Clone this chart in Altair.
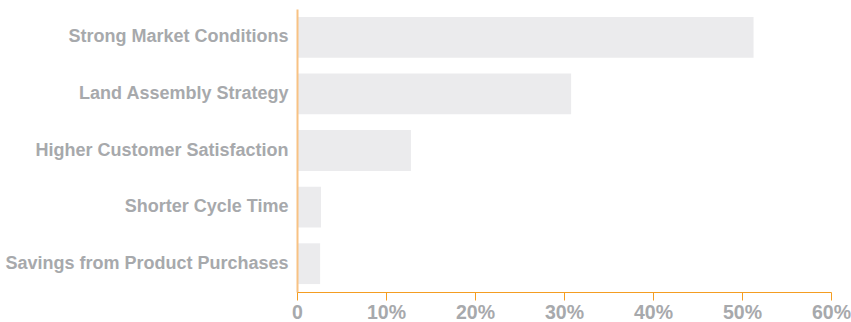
import altair as alt
import pandas as pd

categories = [
    "Strong Market Conditions",
    "Land Assembly Strategy",
    "Higher Customer Satisfaction",
    "Shorter Cycle Time",
    "Savings from Product Purchases",
]
values = [0.513, 0.308, 0.128, 0.027, 0.026]
tick_values = [0, 0.1, 0.2, 0.3, 0.4, 0.5, 0.6]

df = pd.DataFrame({"category": categories, "value": values})

ORANGE = "#f49d22"
ORANGE_LIGHT = "#f8c283"
GRAY_TEXT = "#a7a9ac"
BAR = "#ebebed"
FONT = "Liberation Sans"

chart = (
    alt.Chart(df)
    .mark_bar(color=BAR)
    .encode(
        x=alt.X(
            "value:Q",
            scale=alt.Scale(domain=[0, 0.6], nice=False, zero=True),
            axis=alt.Axis(
                values=tick_values,
                labelExpr="datum.value == 0 ? '0' : format(datum.value, '.0%')",
                grid=False,
                title=None,
                domainColor=ORANGE,
                domainWidth=1,
                tickColor=ORANGE,
                tickSize=8,
                labelColor=GRAY_TEXT,
                labelFont=FONT,
                labelFontSize=19.5,
                labelFontWeight="bold",
                labelPadding=3,
                labelFlush=False,
                zindex=2,
            ),
        ),
        y=alt.Y(
            "category:N",
            sort=categories,
            scale=alt.Scale(paddingInner=0.28, paddingOuter=0.14),
            axis=alt.Axis(
                title=None,
                ticks=False,
                domainColor=ORANGE_LIGHT,
                domainWidth=2,
                labelColor=GRAY_TEXT,
                labelFont=FONT,
                labelFontSize=18,
                labelFontWeight="bold",
                labelPadding=9,
                labelLimit=400,
                zindex=1,
            ),
        ),
    )
    .properties(
        width=534,
        height=283,
        background="white",
        autosize=alt.AutoSizeParams(type="none"),
        padding={"left": 297, "top": 9, "right": 20, "bottom": 30},
    )
    .configure_view(strokeWidth=0)
)

chart.save("out.html", embed_options={"renderer": "svg", "actions": False})
